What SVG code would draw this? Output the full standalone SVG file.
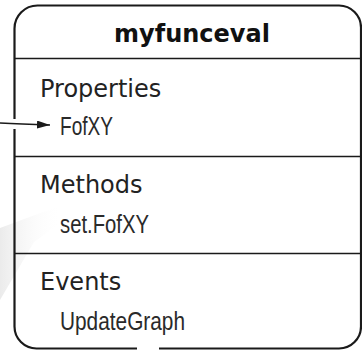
<svg xmlns="http://www.w3.org/2000/svg" width="362" height="351" viewBox="0 0 362 351">
<style>
.frame{fill:none;stroke:#1a1a1a;stroke-width:2.2}
.div{stroke:#1a1a1a;stroke-width:1.5}
.title{font-family:"DejaVu Sans",sans-serif;font-weight:bold;font-size:24px;fill:#111}
.head{font-family:"DejaVu Sans",sans-serif;font-size:24px;fill:#222}
.item{font-family:"Liberation Sans",Arial,sans-serif;font-size:25px;fill:#2a2a2a}
.conn{fill:none;stroke:#1a1a1a;stroke-width:1.5}
</style>
<defs>
<marker id="ah" markerWidth="14" markerHeight="8" refX="13" refY="4" orient="auto" markerUnits="userSpaceOnUse">
<path d="M0,0 L13,4 L0,8 Z" fill="#1a1a1a"/>
</marker>
<linearGradient id="sh" x1="0" y1="0" x2="1" y2="0">
<stop offset="0" stop-color="#ebebeb"/>
<stop offset="1" stop-color="#ffffff" stop-opacity="0"/>
</linearGradient>
</defs>
<polygon points="0,228 62,205 62,222 34,242 0,300" fill="url(#sh)"/>
<g id="myfunceval">
<path class="frame" d="M159,348.5 H339 A22,22 0 0 0 361,326.5 V27.5 A22,22 0 0 0 339,5.5 H37.5 A23,23 0 0 0 14.5,28.5 V119 M14.5,129 V326.5 A22,22 0 0 0 36.5,348.5 H137"/>
<line class="div" x1="14.5" y1="58.5" x2="362" y2="58.5"/>
<line class="div" x1="14.5" y1="156.5" x2="362" y2="156.5"/>
<line class="div" x1="14.5" y1="253.5" x2="362" y2="253.5"/>
<text class="title" x="192" y="42" text-anchor="middle">myfunceval</text>
<text class="head" x="40" y="97">Properties</text>
<text class="item" x="60" y="135" textLength="53" lengthAdjust="spacingAndGlyphs">FofXY</text>
<text class="head" x="40" y="193">Methods</text>
<text class="item" x="60" y="233" textLength="89" lengthAdjust="spacingAndGlyphs">set.FofXY</text>
<text class="head" x="40" y="290">Events</text>
<text class="item" x="60" y="330" textLength="125" lengthAdjust="spacingAndGlyphs">UpdateGraph</text>
</g>
<g id="connectors">
<path class="conn" d="M0,123 Q20,124 50,125" marker-end="url(#ah)"/>
</g>
</svg>
